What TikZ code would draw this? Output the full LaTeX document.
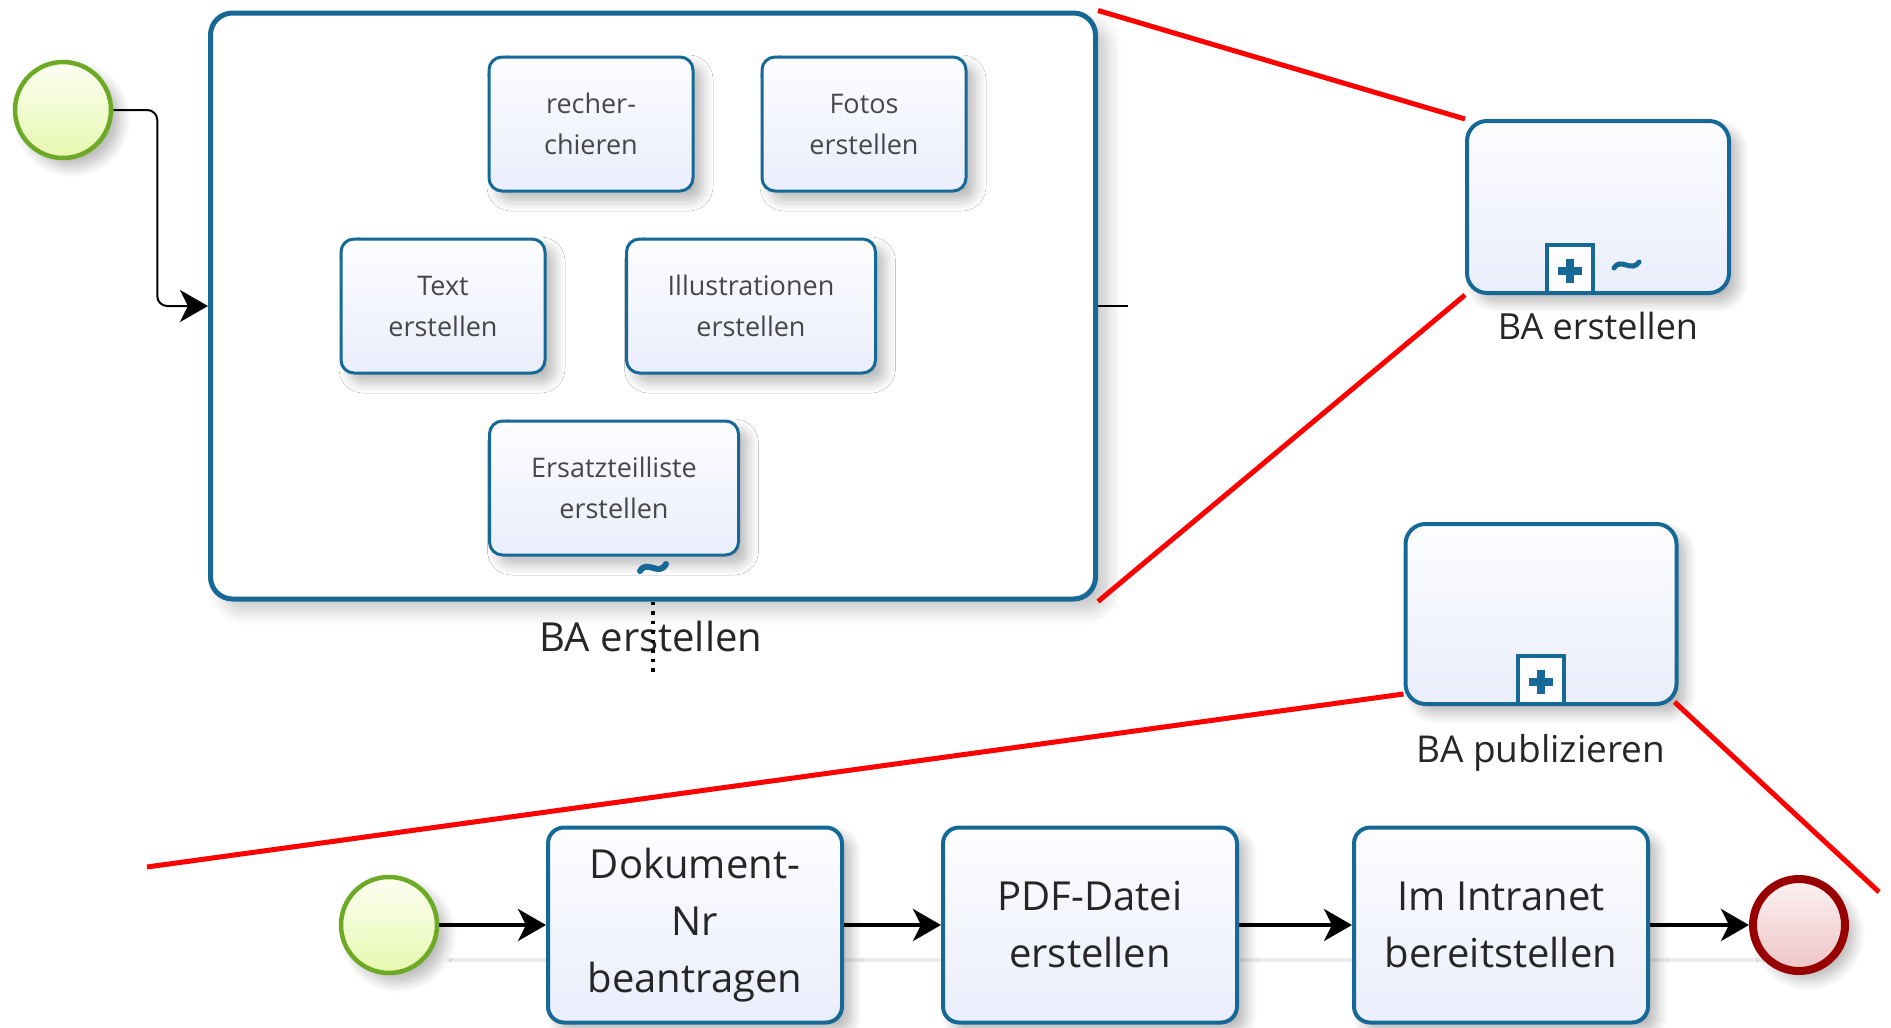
\documentclass[tikz,border=0pt]{standalone}
\usepackage{fontspec}
\setmainfont{Open Sans}
\usetikzlibrary{arrows.meta,shadows.blur}

\definecolor{bpmnblue}{RGB}{22,104,150}
\definecolor{taskA}{RGB}{253,253,255}
\definecolor{taskB}{RGB}{234,238,251}
\definecolor{taskText}{RGB}{70,70,75}
\definecolor{startgreen}{RGB}{108,170,38}
\definecolor{startA}{RGB}{252,254,242}
\definecolor{startB}{RGB}{230,248,175}
\definecolor{endred}{RGB}{152,0,0}
\definecolor{endA}{RGB}{252,242,242}
\definecolor{endB}{RGB}{238,196,198}
\definecolor{zoomred}{RGB}{255,0,0}

\begin{document}
\begin{tikzpicture}[x=1pt,y=-1pt,
  softshadow/.style={blur shadow={shadow xshift=9pt,shadow yshift=-9pt,
      shadow blur radius=11pt,shadow blur steps=8,shadow opacity=28}},
  task/.style={draw=bpmnblue,line width=3pt,rounded corners=13pt,
      top color=taskA,bottom color=taskB,softshadow,
      align=center,inner sep=0pt,text=taskText,
      minimum width=204pt,minimum height=134pt,
      font=\fontsize{27}{41}\selectfont},
  bigtask/.style={task,line width=4pt,rounded corners=16pt,
      minimum width=294pt,minimum height=195pt,text=black!85,
      font=\fontsize{40}{57}\selectfont},
  subproc/.style={draw=bpmnblue,line width=4pt,rounded corners=20pt,
      top color=taskA,bottom color=taskB,softshadow,inner sep=0pt},
  plusbox/.style={draw=bpmnblue,line width=4pt,fill=taskA,inner sep=0pt,
      minimum width=46pt,minimum height=48pt},
  startev/.style={circle,draw=startgreen,line width=4.5pt,inner sep=0pt,
      minimum size=96pt,top color=startA,bottom color=startB,softshadow},
  endev/.style={circle,draw=endred,line width=8pt,inner sep=0pt,
      minimum size=92pt,top color=endA,bottom color=endB,softshadow},
  flow/.style={draw=black,line width=4pt,
      -{Stealth[length=28pt,width=32pt,inset=8pt]}},
  flowthin/.style={draw=black,line width=2pt,rounded corners=10pt,
      -{Stealth[length=28pt,width=32pt,inset=8pt]}},
  zoomline/.style={draw=zoomred,line width=5pt},
  lbl/.style={inner sep=0pt,text=black!85}
]
\useasboundingbox (0,0) rectangle (1891,1028);

% faint guide under the lower process
\draw[black!8,line width=4pt] (447,960) -- (1820,960);

% expanded sub-process
\node[draw=bpmnblue,line width=5pt,rounded corners=22pt,fill=white,
      blur shadow={shadow xshift=12pt,shadow yshift=-12pt,
      shadow blur radius=14pt,shadow blur steps=8,shadow opacity=22},
      minimum width=885pt,minimum height=586pt,inner sep=0pt]
      (ba) at (653,306) {};

\node[task] (rech)   at (591,124) {recher-\\chieren};
\node[task] (fotos)  at (864,124) {Fotos\\erstellen};
\node[task] (text)   at (443,306) {Text\\erstellen};
\node[task,minimum width=249pt] (illu)   at (751,306) {Illustrationen\\erstellen};
\node[task,minimum width=249pt] (ersatz) at (614,488) {Ersatzteilliste\\erstellen};

% ad-hoc marker of the expanded sub-process
\draw[bpmnblue,line width=6pt,line cap=round]
  (640,571) .. controls (647,559) and (659,577) .. (666,564);

\node[lbl,font=\fontsize{40}{48}\selectfont] (balabel) at (651,636) {BA erstellen};
\coordinate (dotend) at (653,672);
\draw[black,line width=3.5pt,dash pattern=on 3.5pt off 6pt] (ba.south) -- (dotend);

% start event and its flow into the sub-process
\node[startev] (s1) at (63,110) {};
\draw[flowthin] (s1.east) -- ++(44,0) |- (ba.west);
\coordinate (stub) at (1128,306);
\draw[black,line width=2pt] (ba.east) -- (stub);

% collapsed sub-process "BA erstellen"
\node[subproc,minimum width=262pt,minimum height=172pt] (sub1) at (1598,207) {};
\node[plusbox,anchor=south] (p1) at ([xshift=-28pt]sub1.south) {};
\draw[bpmnblue,line width=8pt] ([xshift=-12pt,yshift=-2pt]p1.center) -- ([xshift=12pt,yshift=-2pt]p1.center);
\draw[bpmnblue,line width=8pt] ([yshift=10pt]p1.center) -- ([yshift=-14pt]p1.center);
\draw[bpmnblue,line width=5pt,line cap=round]
  (1614,268) .. controls (1620,257) and (1632,273) .. (1639,262);
\node[lbl,font=\fontsize{36}{44}\selectfont] (sub1label) at (1598,326) {BA erstellen};

% collapsed sub-process "BA publizieren"
\node[subproc,minimum width=271pt,minimum height=180pt] (sub2) at (1541,614) {};
\node[plusbox,anchor=south] (p2) at (sub2.south) {};
\draw[bpmnblue,line width=8pt] ([xshift=-12pt,yshift=-2pt]p2.center) -- ([xshift=12pt,yshift=-2pt]p2.center);
\draw[bpmnblue,line width=8pt] ([yshift=10pt]p2.center) -- ([yshift=-14pt]p2.center);
\node[lbl,font=\fontsize{37}{44}\selectfont] (sub2label) at (1541,753) {BA publizieren};

% zoom lines
\draw[zoomline] (ba.north east) -- (sub1.north west);
\draw[zoomline] (ba.south east) -- (sub1.south west);
\coordinate (zl) at (147,867);
\coordinate (zr) at (1879,892);
\draw[zoomline] ([yshift=12pt]sub2.south west) -- (zl);
\draw[zoomline] ([xshift=-4pt,yshift=4pt]sub2.south east) -- (zr);

% lower process
\node[startev] (s2) at (389,925) {};
\node[bigtask] (t1) at (695,925) {Dokument-\\Nr\\beantragen};
\node[bigtask] (t2) at (1090,925) {PDF-Datei\\erstellen};
\node[bigtask] (t3) at (1501,925) {Im Intranet\\bereitstellen};
\node[endev] (e) at (1799,925) {};

\draw[flow] (s2) -- (t1);
\draw[flow] (t1) -- (t2);
\draw[flow] (t2) -- (t3);
\draw[flow] (t3) -- (e);
\end{tikzpicture}
\end{document}
